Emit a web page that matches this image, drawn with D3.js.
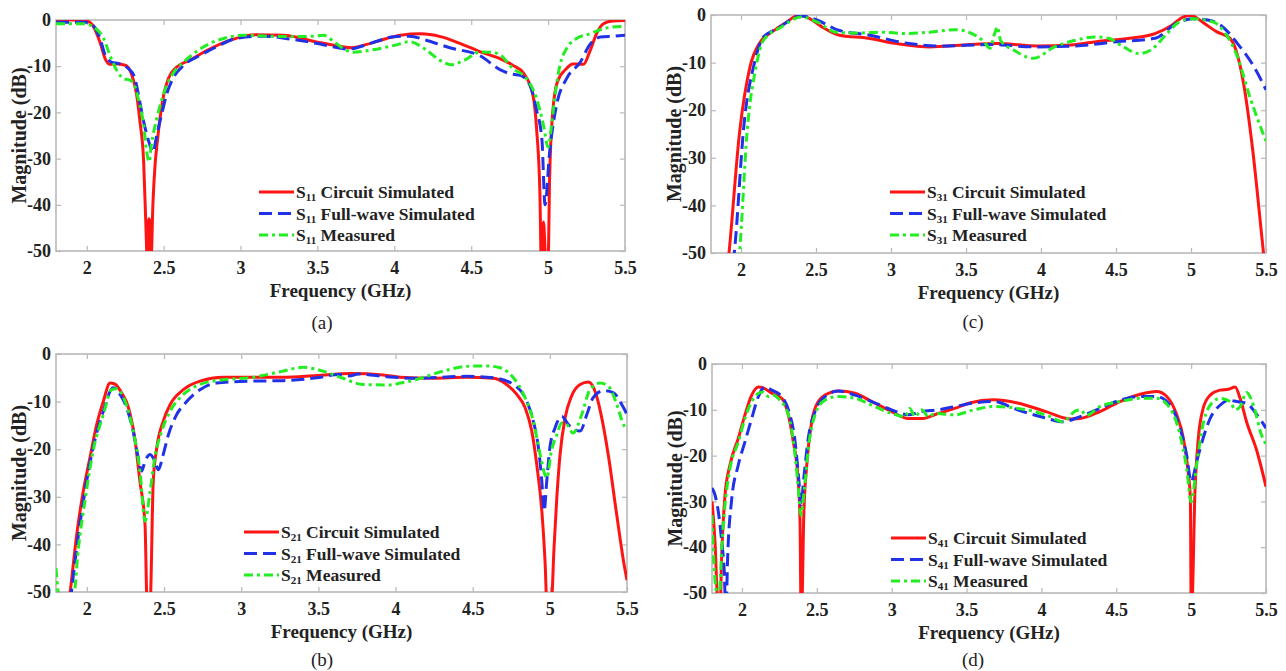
<!DOCTYPE html>
<html>
<head>
<meta charset="utf-8">
<script src="https://cdn.jsdelivr.net/npm/d3@7"></script>
<style>
  body { margin: 0; background: #fff; }
  svg { display: block; font-family: "Liberation Serif", "Times New Roman", serif; }
</style>
</head>
<body>
<svg width="1286" height="671"></svg>
<script>
// axis ticks
const freqTicks = [2, 2.5, 3, 3.5, 4, 4.5, 5, 5.5];
const dbTicks = [0, -10, -20, -30, -40, -50];
const seriesNames = ["Circuit Simulated", "Full-wave Simulated", "Measured"];

// [GHz, dB]
const s11Circuit = [[1.8,0],[1.95,0],[2.0,-0.2],[2.04,-1.2],[2.086,-4.8],[2.12,-8.4],[2.15,-9.6],[2.195,-9.5],[2.25,-9.8],[2.29,-11.6],[2.325,-16.3],[2.346,-22],[2.37,-30.7],[2.385,-45],[2.393,-52],[2.403,-43],[2.41,-43.5],[2.418,-52],[2.43,-40],[2.445,-31],[2.46,-26],[2.476,-21.4],[2.5,-16.3],[2.53,-12.7],[2.585,-10.2],[2.67,-8.7],[2.78,-6.6],[2.93,-4.4],[3.1,-3.2],[3.28,-3.3],[3.5,-4.8],[3.6,-5.4],[3.72,-6.0],[3.85,-5.0],[3.95,-4.0],[4.04,-3.3],[4.17,-3.0],[4.3,-3.6],[4.43,-5.1],[4.56,-6.9],[4.69,-8.4],[4.77,-9.8],[4.84,-11.5],[4.9,-16],[4.925,-23.5],[4.947,-38],[4.955,-52],[4.97,-43.7],[4.985,-52],[5.0,-52],[5.01,-34],[5.03,-20],[5.06,-13.4],[5.12,-10.5],[5.16,-9.5],[5.23,-9.6],[5.27,-6.9],[5.32,-2.6],[5.36,-0.8],[5.42,-0.2],[5.5,-0.1]];
const s11Full = [[1.8,-0.5],[2.0,-0.5],[2.05,-1.5],[2.086,-4],[2.12,-7.6],[2.16,-9.1],[2.216,-9.5],[2.27,-10.5],[2.31,-12.3],[2.335,-16],[2.37,-22],[2.41,-27],[2.43,-28.6],[2.455,-25],[2.49,-20],[2.52,-16],[2.56,-12.7],[2.63,-9.8],[2.74,-7.6],[2.845,-5.8],[2.97,-4],[3.15,-3.5],[3.32,-4.1],[3.5,-5.1],[3.6,-5.8],[3.7,-6.3],[3.85,-5],[4.0,-3.6],[4.1,-3.5],[4.2,-4.3],[4.36,-6],[4.56,-7.8],[4.69,-10.8],[4.75,-11.6],[4.82,-12],[4.88,-14],[4.925,-19.5],[4.96,-26],[4.98,-40],[5.01,-28.6],[5.055,-18.4],[5.12,-12.7],[5.21,-9.1],[5.27,-5.4],[5.34,-3.7],[5.42,-3.5],[5.5,-3.3]];
const s11Meas = [[1.8,-0.8],[1.98,-0.8],[2.06,-1.9],[2.11,-4],[2.15,-7.6],[2.195,-10.9],[2.24,-12.7],[2.28,-13],[2.31,-14.1],[2.335,-17],[2.37,-22.8],[2.39,-28.6],[2.405,-30.7],[2.42,-27],[2.455,-21.4],[2.49,-17],[2.52,-14.1],[2.56,-11.6],[2.63,-9.1],[2.71,-6.9],[2.8,-5.1],[2.89,-4],[3.02,-3.3],[3.17,-3.5],[3.32,-3.6],[3.47,-3.5],[3.54,-3.3],[3.6,-4.5],[3.66,-6],[3.73,-7],[3.85,-6.5],[4.0,-5.5],[4.1,-4.7],[4.2,-6.3],[4.3,-8.8],[4.37,-9.7],[4.45,-8.8],[4.56,-6.9],[4.64,-7],[4.69,-7.6],[4.77,-10.5],[4.86,-12.7],[4.925,-17],[4.97,-22.8],[5.0,-27.5],[5.02,-23.5],[5.045,-16.3],[5.077,-9.8],[5.12,-6.2],[5.185,-4],[5.27,-3],[5.36,-1.9],[5.47,-1.4],[5.5,-1.6]];

const s21Circuit = [[1.87,-56],[1.9,-47.7],[1.934,-38],[1.977,-28.8],[2.02,-21.8],[2.064,-14.8],[2.107,-9.9],[2.15,-6.1],[2.18,-6.3],[2.226,-8.2],[2.27,-11.3],[2.31,-17.6],[2.344,-26.8],[2.377,-35.9],[2.39,-52],[2.41,-52],[2.43,-26.8],[2.453,-19.7],[2.495,-14.1],[2.54,-10.6],[2.625,-7.5],[2.733,-5.7],[2.884,-4.9],[3.06,-4.9],[3.27,-4.9],[3.49,-4.5],[3.71,-4.1],[3.92,-4.4],[4.03,-4.9],[4.245,-5.1],[4.46,-4.9],[4.634,-5.1],[4.72,-6.4],[4.786,-8.5],[4.84,-11.3],[4.883,-16.2],[4.915,-23.2],[4.95,-33.8],[4.97,-44.3],[4.98,-52],[5.01,-52],[5.027,-40.8],[5.045,-30.3],[5.066,-21.2],[5.099,-13.4],[5.14,-8.9],[5.196,-6.4],[5.25,-5.9],[5.3,-8.5],[5.34,-14],[5.38,-21.5],[5.43,-33],[5.48,-44],[5.5,-47.5]];
const s21Full = [[1.88,-56],[1.9,-50],[1.934,-40.8],[1.977,-31],[2.04,-19.7],[2.107,-12],[2.17,-7.1],[2.215,-8.5],[2.258,-11.3],[2.3,-16.2],[2.333,-21.8],[2.355,-24.6],[2.377,-22.5],[2.41,-21.1],[2.44,-22.5],[2.463,-24.3],[2.495,-21.1],[2.528,-17],[2.571,-13.4],[2.647,-10],[2.733,-7.5],[2.84,-6.1],[3.057,-5.7],[3.27,-5.6],[3.49,-5],[3.63,-4.3],[3.7,-4.6],[3.76,-4.2],[3.95,-4.8],[4.13,-5.1],[4.46,-4.7],[4.634,-5],[4.764,-6.4],[4.85,-9.9],[4.893,-14.1],[4.926,-19.7],[4.948,-26.7],[4.963,-33],[4.98,-26.7],[5.0,-19.7],[5.034,-15.5],[5.077,-13.1],[5.12,-14.8],[5.163,-15.9],[5.196,-16.2],[5.24,-12.7],[5.28,-9.2],[5.347,-7.7],[5.41,-8.1],[5.466,-10.6],[5.5,-12.7]];
const s21Meas = [[1.8,-45],[1.826,-52],[1.91,-52],[1.945,-40.8],[1.99,-30.3],[2.04,-20.4],[2.107,-12.7],[2.16,-7.5],[2.193,-7.3],[2.247,-9.9],[2.3,-16.2],[2.344,-24.6],[2.377,-35.1],[2.41,-28.8],[2.44,-21.8],[2.485,-16.2],[2.54,-12],[2.625,-8.5],[2.733,-6.4],[2.884,-5.4],[3.057,-5],[3.27,-3.6],[3.4,-2.8],[3.53,-3.6],[3.66,-5.1],[3.79,-6.4],[3.98,-6.5],[4.03,-6.1],[4.11,-5.6],[4.2,-4.7],[4.31,-3.6],[4.46,-2.6],[4.59,-2.5],[4.677,-2.9],[4.764,-5],[4.83,-8.5],[4.893,-14.1],[4.937,-21.1],[4.98,-26],[5.01,-20.4],[5.045,-17],[5.077,-14.5],[5.11,-14.8],[5.15,-16.6],[5.207,-12.7],[5.26,-7.5],[5.326,-6.1],[5.38,-6.8],[5.434,-10.6],[5.477,-14.8],[5.5,-15.9]];

const s31Circuit = [[1.9,-56],[1.92,-50],[1.99,-24.8],[2.06,-10.9],[2.13,-5.6],[2.21,-3.5],[2.29,-1.8],[2.39,0],[2.46,-0.8],[2.54,-2.5],[2.65,-4.2],[2.85,-4.9],[3.04,-6],[3.26,-6.7],[3.48,-6.3],[3.71,-6],[3.98,-6.5],[4.2,-6.3],[4.37,-5.6],[4.59,-4.9],[4.76,-3.9],[4.87,-2.2],[4.95,-0.4],[5.0,-0.1],[5.09,-1.8],[5.17,-3.5],[5.26,-4.9],[5.3,-7.4],[5.35,-14.3],[5.41,-28],[5.48,-49],[5.5,-55]];
const s31Full = [[1.93,-56],[1.955,-50],[2.02,-23],[2.09,-10],[2.15,-4.6],[2.24,-2.9],[2.4,-0.2],[2.51,-1.1],[2.65,-3.2],[2.85,-4.2],[3.12,-6],[3.32,-6.5],[3.68,-6.2],[3.95,-6.7],[4.23,-6.5],[4.51,-5.6],[4.76,-4.9],[4.9,-1.8],[5.01,-0.8],[5.12,-1.1],[5.2,-2.2],[5.31,-6],[5.42,-10.9],[5.5,-15.7]];
const s31Meas = [[1.97,-56],[1.99,-50],[2.04,-24.8],[2.1,-10.9],[2.15,-5.3],[2.27,-2.5],[2.4,-0.4],[2.51,-1.5],[2.63,-3.6],[2.76,-3.8],[2.93,-3.6],[3.1,-3.9],[3.26,-3.6],[3.43,-3.1],[3.54,-3.9],[3.62,-5.6],[3.66,-7],[3.69,-4],[3.71,-2.5],[3.73,-5.3],[3.82,-7.4],[3.95,-9.1],[4.09,-6.7],[4.23,-5.3],[4.37,-4.6],[4.45,-4.9],[4.55,-6.7],[4.65,-8.1],[4.73,-7.4],[4.84,-3.9],[4.92,-1.5],[5.01,-0.8],[5.15,-1.5],[5.23,-3.9],[5.31,-8.8],[5.39,-17],[5.5,-26.5]];

const s41Circuit = [[1.8,-30],[1.82,-38.8],[1.838,-52],[1.853,-54],[1.865,-41.7],[1.887,-28.6],[1.92,-22],[1.976,-16.2],[2.02,-11.1],[2.065,-6.8],[2.11,-5.0],[2.143,-5.2],[2.2,-6.4],[2.266,-7.5],[2.31,-11.1],[2.343,-17],[2.373,-24.3],[2.388,-34.5],[2.394,-52],[2.4,-52],[2.413,-33],[2.433,-22],[2.466,-12.6],[2.51,-8.2],[2.577,-6.4],[2.644,-5.9],[2.755,-6.4],[2.867,-8.2],[3.0,-10.4],[3.11,-11.9],[3.2,-11.9],[3.31,-10.8],[3.42,-9.7],[3.52,-8.5],[3.68,-7.8],[3.84,-8.5],[4.03,-10.4],[4.2,-12],[4.258,-11.9],[4.39,-10.4],[4.525,-8.2],[4.66,-6.6],[4.77,-6.0],[4.837,-7.1],[4.904,-11.1],[4.948,-16.2],[4.98,-23.5],[4.995,-29.3],[5.0,-52],[5.005,-52],[5.026,-27.3],[5.048,-16.2],[5.08,-9.7],[5.127,-6.8],[5.193,-5.7],[5.25,-5.5],[5.294,-5.0],[5.327,-7.5],[5.37,-12.6],[5.44,-19.1],[5.5,-26.8]];
const s41Full = [[1.8,-27.1],[1.82,-28.6],[1.842,-32.2],[1.865,-38.8],[1.882,-45.4],[1.89,-52],[1.895,-52],[1.905,-41.7],[1.93,-30],[1.976,-22],[2.02,-17],[2.065,-11.9],[2.11,-7.1],[2.154,-5.0],[2.2,-5.7],[2.266,-7.1],[2.31,-10],[2.355,-17],[2.381,-25.7],[2.394,-30.8],[2.413,-25],[2.443,-16.2],[2.488,-10.4],[2.555,-7.1],[2.644,-5.9],[2.755,-6.8],[2.867,-8.2],[3.0,-10],[3.11,-11.1],[3.2,-10.4],[3.31,-10],[3.42,-9.3],[3.55,-8.5],[3.68,-8.2],[3.84,-10],[4.03,-11.8],[4.14,-12.6],[4.258,-11.5],[4.39,-9.7],[4.525,-7.9],[4.66,-7.1],[4.77,-7.1],[4.86,-9.0],[4.926,-14],[4.97,-19.9],[5.0,-25.7],[5.037,-21.3],[5.08,-16.2],[5.127,-11.9],[5.193,-9.0],[5.25,-7.9],[5.305,-8.2],[5.37,-8.6],[5.44,-11.1],[5.5,-14]];
const s41Meas = [[1.8,-33],[1.81,-41.7],[1.83,-50],[1.847,-52],[1.865,-40.3],[1.887,-30.8],[1.92,-22.8],[1.976,-17],[2.02,-11.9],[2.065,-8.2],[2.11,-6.4],[2.143,-6.1],[2.176,-7.1],[2.21,-6.8],[2.254,-7.9],[2.31,-11.1],[2.35,-18.5],[2.377,-27.3],[2.394,-33],[2.417,-27.3],[2.443,-18.5],[2.488,-11.1],[2.555,-7.9],[2.644,-7.1],[2.755,-7.5],[2.867,-9.0],[3.0,-10.8],[3.09,-11.5],[3.12,-9.7],[3.156,-11.5],[3.2,-10],[3.245,-11.5],[3.29,-10.8],[3.42,-11.1],[3.55,-10],[3.68,-9.3],[3.9,-10],[4.06,-11.5],[4.14,-12.6],[4.23,-10.2],[4.26,-10],[4.3,-11.2],[4.39,-9.3],[4.525,-8.2],[4.66,-7.5],[4.77,-7.5],[4.86,-9.7],[4.926,-15.5],[4.97,-22.8],[5.0,-30.1],[5.037,-22],[5.07,-14.7],[5.127,-9.0],[5.193,-7.5],[5.26,-8.2],[5.294,-10],[5.327,-9.3],[5.37,-6.2],[5.416,-9.0],[5.47,-15.5],[5.5,-17.5]];

const styles = [
  { color: "#ff1414", dash: null },
  { color: "#2131e8", dash: "13,6" },
  { color: "#22ee22", dash: "9,4,3,4" }
];

const panels = [
  { port: "11", caption: "(a)", series: [s11Circuit, s11Full, s11Meas],
    box: { left: 56, top: 20, right: 625, bottom: 251 }, legend: [259, 192], cap: [322, 329] },
  { port: "21", caption: "(b)", series: [s21Circuit, s21Full, s21Meas],
    box: { left: 56, top: 354, right: 627, bottom: 592 }, legend: [244, 532], cap: [322, 666] },
  { port: "31", caption: "(c)", series: [s31Circuit, s31Full, s31Meas],
    box: { left: 711, top: 15, right: 1266, bottom: 253 }, legend: [890, 192], cap: [973, 328] },
  { port: "41", caption: "(d)", series: [s41Circuit, s41Full, s41Meas],
    box: { left: 712, top: 364, right: 1266, bottom: 593 }, legend: [891, 538], cap: [973, 666] }
];

const svg = d3.select("svg");
const grey = "#b8b8b8";

panels.forEach((p, pi) => {
  const b = p.box;
  const x = d3.scaleLinear().domain([1.8, 5.5]).range([b.left, b.right]);
  const y = d3.scaleLinear().domain([-50, 0]).range([b.bottom, b.top]);
  const g = svg.append("g");

  g.append("clipPath").attr("id", "clip" + pi)
    .append("rect")
    .attr("x", b.left).attr("y", b.top)
    .attr("width", b.right - b.left).attr("height", b.bottom - b.top);

  // ticks on all four sides, pointing inwards
  const fmt = d => String(d);
  g.append("g").attr("transform", `translate(0,${b.bottom})`)
    .call(d3.axisBottom(x).tickValues(freqTicks).tickSize(-5).tickPadding(10).tickFormat(fmt));
  g.append("g").attr("transform", `translate(${b.left},0)`)
    .call(d3.axisLeft(y).tickValues(dbTicks).tickSize(-5).tickPadding(5).tickFormat(fmt));
  g.append("g").attr("transform", `translate(0,${b.top})`)
    .call(d3.axisTop(x).tickValues(freqTicks).tickSize(-5).tickFormat(""));
  g.append("g").attr("transform", `translate(${b.right},0)`)
    .call(d3.axisRight(y).tickValues(dbTicks).tickSize(-5).tickFormat(""));

  g.selectAll(".domain").remove();
  g.selectAll(".tick line").attr("stroke", grey).attr("stroke-width", 1.2);
  g.selectAll(".tick text")
    .attr("font-family", "Liberation Serif, serif")
    .attr("font-size", 18).attr("font-weight", "bold").attr("fill", "#222");

  g.append("rect")
    .attr("x", b.left).attr("y", b.top)
    .attr("width", b.right - b.left).attr("height", b.bottom - b.top)
    .attr("fill", "none").attr("stroke", grey).attr("stroke-width", 1.6);

  // curves
  const line = d3.line()
    .x(d => x(d[0])).y(d => y(d[1]))
    .curve(d3.curveMonotoneX);

  const lines = g.append("g").attr("clip-path", `url(#clip${pi})`);
  p.series.forEach((s, i) => {
    lines.append("path")
      .datum(s)
      .attr("d", line)
      .attr("fill", "none")
      .attr("stroke", styles[i].color)
      .attr("stroke-width", 3)
      .attr("stroke-dasharray", styles[i].dash)
      .attr("stroke-linejoin", "round");
  });

  // axis titles
  g.append("text")
    .attr("x", (b.left + b.right) / 2).attr("y", b.bottom + 46)
    .attr("text-anchor", "middle")
    .attr("font-size", 19).attr("font-weight", "bold").attr("fill", "#222")
    .text("Frequency (GHz)");
  g.append("text")
    .attr("transform", `translate(${b.left - 30},${(b.top + b.bottom) / 2}) rotate(-90)`)
    .attr("text-anchor", "middle")
    .attr("font-size", 20).attr("font-weight", "bold").attr("fill", "#222")
    .text("Magnitude (dB)");

  // legend
  const [lx, ly] = p.legend;
  seriesNames.forEach((name, i) => {
    const yy = ly + i * 21.5;
    g.append("line")
      .attr("x1", lx).attr("x2", lx + 35).attr("y1", yy).attr("y2", yy)
      .attr("stroke", styles[i].color).attr("stroke-width", 3)
      .attr("stroke-dasharray", styles[i].dash);
    const t = g.append("text")
      .attr("x", lx + 37).attr("y", yy + 6)
      .attr("font-size", 17.5).attr("font-weight", "bold").attr("fill", "#222");
    t.append("tspan").text("S");
    t.append("tspan").attr("font-size", 11).attr("dy", 3).text(p.port);
    t.append("tspan").attr("dy", -3).text(" " + name);
  });

  // caption
  g.append("text")
    .attr("x", p.cap[0]).attr("y", p.cap[1])
    .attr("text-anchor", "middle")
    .attr("font-size", 19).attr("fill", "#222")
    .text(p.caption);
});
</script>
</body>
</html>
